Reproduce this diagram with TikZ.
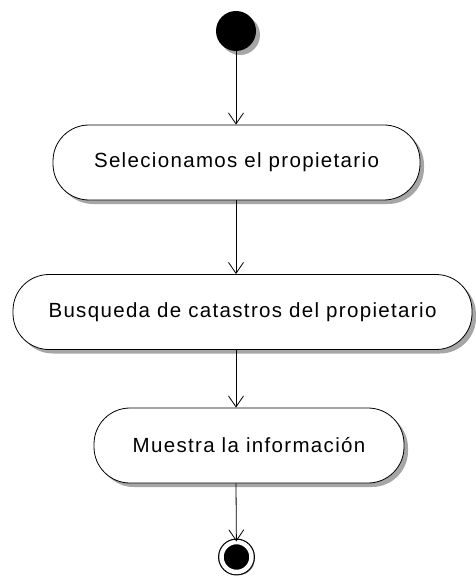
\documentclass[tikz,border=0pt]{standalone}
\usepackage{fontspec}
\setmainfont{Liberation Sans}[LetterSpace=6.5]
\usetikzlibrary{arrows.meta,shadows}

\tikzstyle{act} = [draw, fill=white, rounded corners=36pt, minimum height=75pt,
    inner sep=0pt, font=\fontsize{20.5}{22}\selectfont,
    drop shadow={shadow xshift=4pt, shadow yshift=-4pt, fill=gray!70, opacity=1}]
\tikzstyle{start} = [circle, fill=black, minimum size=40pt, inner sep=0pt,
    drop shadow={shadow xshift=4pt, shadow yshift=-4pt, fill=gray!70, opacity=1}]
\tikzstyle{stop} = [circle, fill=black, draw=black, double=white, double distance=4.5pt,
    line width=1.2pt, minimum size=30pt, inner sep=0pt,
    drop shadow={shadow xshift=3pt, shadow yshift=-3pt, fill=gray!70, opacity=1}]
\tikzstyle{flow} = [-{Straight Barb[length=11pt,width=15pt]}, line width=0.8pt]

\begin{document}
\begin{tikzpicture}[x=1pt, y=-1pt, line width=0.8pt]
\useasboundingbox (0,0) rectangle (475,577);
\node[start] (init) at (236,31) {};
\node[act, minimum width=367pt] (sel) at (236.5,162.5) {Selecionamos el propietario};
\node[act, minimum width=459pt] (bus) at (242.5,312) {Busqueda de catastros del propietario};
\node[act, minimum width=310pt] (mue) at (249,445.5) {Muestra la información};
\node[stop] (fin) at (236.5,557) {};

\draw[flow] (init) -- (sel.north -| init);
\draw[flow] (sel.south -| init) -- (bus.north -| init);
\draw[flow] (bus.south -| init) -- (mue.north -| init);
\draw[flow] (mue.south -| init) -- (fin);
\end{tikzpicture}
\end{document}
